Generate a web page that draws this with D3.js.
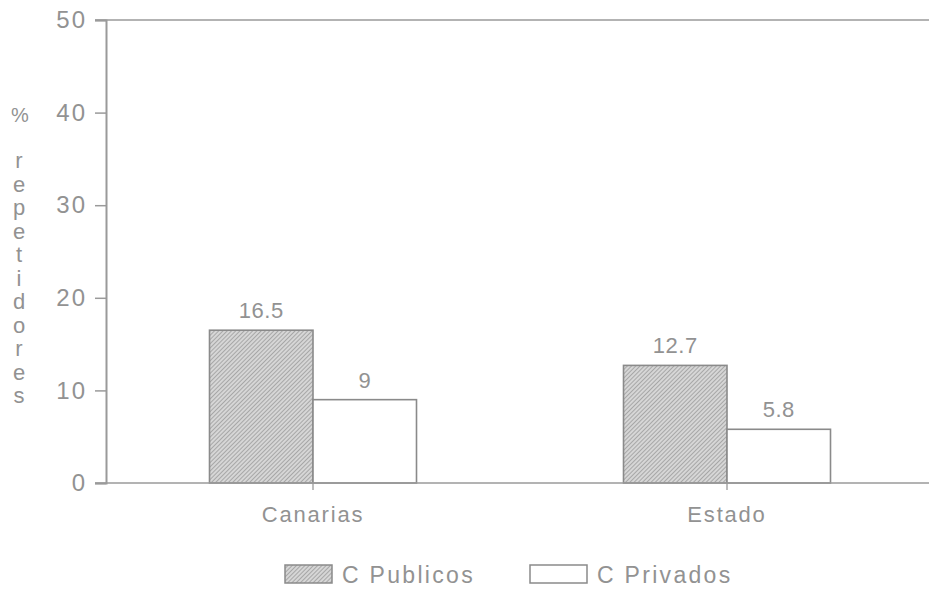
<!DOCTYPE html>
<html>
<head>
<meta charset="utf-8">
<script src="https://cdn.jsdelivr.net/npm/d3@7"></script>
<style>
  html, body { margin: 0; padding: 0; background: #fff; }
  svg { display: block; }
  text { font-family: "Liberation Sans", "DejaVu Sans", sans-serif; fill: #929292; }
</style>
</head>
<body>
<svg id="chart" width="929" height="595"></svg>
<script>
const categories = ["Canarias", "Estado"];
const seriesNames = ["C Publicos", "C Privados"];
const publicos = [16.5, 12.7];
const privados = [9, 5.8];
const valueLabels = [["16.5", "9"], ["12.7", "5.8"]];
const yTicks = [0, 10, 20, 30, 40, 50];
const yLabelTop = "%";
const yLabelWord = "repetidores";

(function () {
const svg = d3.select("#chart");
const W = 929;
const mLeft = 106, mRight = 934, mTop = 20, mBottom = 483;
const lineColor = "#9a9a9a";
const textColor = "#929292";

const defs = svg.append("defs");
const pat = defs.append("pattern")
  .attr("id", "hatch").attr("patternUnits", "userSpaceOnUse")
  .attr("width", 3).attr("height", 3)
  .attr("patternTransform", "rotate(45)");
pat.append("rect").attr("width", 3).attr("height", 3).attr("fill", "#d6d6d6");
pat.append("line").attr("x1", 0).attr("y1", 0).attr("x2", 0).attr("y2", 3)
  .attr("stroke", "#888888").attr("stroke-width", 1.2);

const x0 = d3.scaleBand().domain(categories).range([mLeft, mRight])
  .paddingInner(0.5).paddingOuter(0.25);
const x1 = d3.scaleBand().domain(seriesNames).range([0, x0.bandwidth()]);
const y = d3.scaleLinear().domain([0, 50]).range([mBottom, mTop]);

const data = categories.map((c, i) => ({ cat: c, vals: [publicos[i], privados[i]], labels: valueLabels[i] }));

svg.append("line").attr("x1", 95).attr("x2", W).attr("y1", y(50)).attr("y2", y(50))
  .attr("stroke", lineColor).attr("stroke-width", 1.6);

const yAxis = d3.axisLeft(y).tickValues(yTicks).tickSize(11).tickPadding(8);
const gy = svg.append("g").attr("transform", `translate(${mLeft},0)`).call(yAxis);
gy.select(".domain").attr("stroke", lineColor).attr("stroke-width", 2);
gy.selectAll(".tick line").attr("stroke", lineColor).attr("stroke-width", 1.5);
gy.selectAll(".tick text").attr("font-size", 24).attr("fill", textColor)
  .attr("letter-spacing", 2)
  .style("font-family", "'Liberation Sans', sans-serif");

const gCat = svg.selectAll("g.cat").data(data).enter().append("g")
  .attr("class", "cat").attr("transform", d => `translate(${x0(d.cat)},0)`);
const items = d => d.vals.map((v, j) => ({ s: seriesNames[j], v, j, lab: d.labels[j] }));
gCat.selectAll("rect").data(items)
  .enter().append("rect")
  .attr("x", d => x1(d.s)).attr("width", x1.bandwidth())
  .attr("y", d => y(d.v)).attr("height", d => y(0) - y(d.v))
  .attr("fill", d => d.j === 0 ? "url(#hatch)" : "#ffffff")
  .attr("stroke", "#8a8a8a").attr("stroke-width", 1.6);
gCat.selectAll("text.val").data(items)
  .enter().append("text").attr("class", "val")
  .attr("x", d => x1(d.s) + x1.bandwidth() / 2)
  .attr("y", d => y(d.v) - 12)
  .attr("text-anchor", "middle").attr("font-size", 22).attr("letter-spacing", 0.5)
  .text(d => d.lab);

const xAxis = d3.axisBottom(x0).tickSize(7).tickPadding(20);
const gx = svg.append("g").attr("transform", `translate(0,${mBottom})`).call(xAxis);
gx.select(".domain").remove();
gx.append("line").attr("x1", 95).attr("x2", W).attr("y1", 0).attr("y2", 0)
  .attr("stroke", lineColor).attr("stroke-width", 1.6);
gx.selectAll(".tick line").attr("stroke", lineColor).attr("stroke-width", 1.3);
gx.selectAll(".tick text").attr("font-size", 22).attr("fill", textColor)
  .attr("letter-spacing", 1.8).attr("y", 39).attr("dy", 0)
  .style("font-family", "'Liberation Sans', sans-serif");

const yl = svg.append("g");
yl.append("text").attr("x", 20).attr("y", 122).attr("text-anchor", "middle")
  .attr("font-size", 20).text(yLabelTop);
yl.selectAll("text.ch").data(yLabelWord.split("")).enter().append("text")
  .attr("class", "ch").attr("x", 19).attr("y", (d, i) => 168 + i * 23.5)
  .attr("text-anchor", "middle").attr("font-size", 22).text(d => d);

const legend = [
  { name: seriesNames[0], fill: "url(#hatch)", x: 285, w: 47 },
  { name: seriesNames[1], fill: "#ffffff", x: 530, w: 57 }
];
const lg = svg.selectAll("g.leg").data(legend).enter().append("g").attr("class", "leg");
lg.append("rect").attr("x", d => d.x).attr("y", 565).attr("width", d => d.w).attr("height", 18)
  .attr("fill", d => d.fill).attr("stroke", "#8a8a8a").attr("stroke-width", 1.5);
lg.append("text").attr("x", d => d.x + d.w + 10).attr("y", 583)
  .attr("font-size", 23).attr("letter-spacing", 2.3).text(d => d.name);
})();
</script>
</body>
</html>
